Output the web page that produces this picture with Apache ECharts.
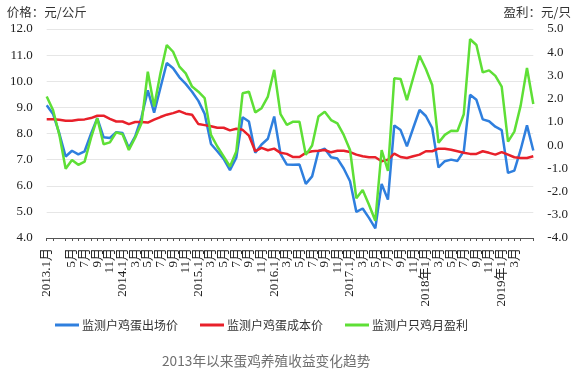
<!DOCTYPE html>
<html>
<head>
<meta charset="utf-8">
<script src="https://cdn.jsdelivr.net/npm/echarts@6/dist/echarts.min.js"></script>
<style>html,body{margin:0;padding:0;background:#fff}#c{width:580px;height:370px}</style>
</head>
<body>
<div id="c"></div>
<script>
const categories = [
  '2013.1月','2月','3月','4月','5月','6月','7月','8月','9月','10月','11月','12月',
  '2014.1月','2月','3月','4月','5月','6月','7月','8月','9月','10月','11月','12月',
  '2015.1月','2月','3月','4月','5月','6月','7月','8月','9月','10月','11月','12月',
  '2016.1月','2月','3月','4月','5月','6月','7月','8月','9月','10月','11月','12月',
  '2017.1月','2月','3月','4月','5月','6月','7月','8月','9月','10月','11月','12月',
  '2018年1月','2月','3月','4月','5月','6月','7月','8月','9月','10月','11月','12月',
  '2019年1月','2月','3月','4月','5月','6月'
];
const seriesNames = ['监测户鸡蛋出场价','监测户鸡蛋成本价','监测户只鸡月盈利'];
const eggPrice = [
  9.08,8.75,8.0,7.12,7.34,7.2,7.32,7.98,8.59,7.86,7.83,8.05,
  8.02,7.45,7.89,8.62,9.65,8.8,9.75,10.7,10.5,10.15,9.9,9.6,
  9.25,8.75,7.6,7.32,7.03,6.6,7.07,8.62,8.46,7.26,7.58,7.8,
  8.65,7.22,6.81,6.8,6.81,6.07,6.36,7.32,7.42,7.09,7.04,6.66,
  6.17,5.0,5.13,4.77,4.37,6.07,5.47,8.31,8.13,7.51,8.21,8.9,
  8.67,8.21,6.7,6.94,7.0,6.95,7.32,9.48,9.29,8.54,8.47,8.26,
  8.13,6.49,6.58,7.38,8.31,7.35
];
const eggCost = [
  8.55,8.55,8.53,8.49,8.49,8.53,8.54,8.59,8.68,8.68,8.56,8.46,
  8.46,8.36,8.44,8.44,8.42,8.53,8.63,8.72,8.78,8.86,8.76,8.72,
  8.36,8.32,8.28,8.22,8.22,8.12,8.18,8.14,7.92,7.32,7.45,7.36,
  7.42,7.26,7.22,7.1,7.1,7.26,7.32,7.34,7.37,7.28,7.34,7.34,
  7.29,7.19,7.13,7.09,7.09,6.94,7.0,7.23,7.1,7.06,7.13,7.19,
  7.32,7.32,7.42,7.42,7.38,7.32,7.26,7.22,7.22,7.32,7.26,7.19,
  7.29,7.19,7.09,7.06,7.06,7.13
];
const henProfit = [
  2.09,1.51,0.44,-1.02,-0.64,-0.85,-0.71,0.3,1.16,0.04,0.12,0.55,
  0.47,-0.21,0.32,0.94,3.16,1.66,3.09,4.31,4.02,3.38,3.09,2.52,
  2.3,2.02,0.44,-0.06,-0.49,-0.92,-0.28,2.23,2.3,1.41,1.59,2.09,
  3.24,1.33,0.87,1.01,1.01,-0.42,-0.02,1.23,1.44,1.08,0.94,0.44,
  -0.21,-2.29,-1.93,-2.57,-3.26,-0.21,-1.11,2.88,2.85,1.94,2.9,3.85,
  3.28,2.59,0.1,0.44,0.62,0.61,1.33,4.56,4.31,3.13,3.22,2.98,
  2.52,0.15,0.58,1.7,3.32,1.77
];
const leftAxisName = '价格：元/公斤';
const rightAxisName = '盈利：元/只';
const chartTitle = '2013年以来蛋鸡养殖收益变化趋势';

const serif = '"Liberation Serif", "Times New Roman", "Noto Sans CJK SC", serif';
const sans = '"Noto Sans CJK SC", "Noto Sans", sans-serif';

const chart = echarts.init(document.getElementById('c'), null, {renderer: 'canvas'});
chart.setOption({
  animation: false,
  backgroundColor: '#fff',
  title: {
    text: chartTitle,
    left: 157, top: 349,
    textStyle: {fontFamily: sans, fontSize: 13.7, fontWeight: 'normal', color: '#6f6f6f'}
  },
  legend: {
    left: 50, top: 314,
    itemWidth: 24, itemHeight: 3, itemGap: 22,
    icon: 'rect',
    textStyle: {fontFamily: sans, fontSize: 12, color: '#333', padding: [0, 0, 0, -2]},
    data: seriesNames
  },
  grid: {left: 46.7, right: 46.7, top: 29, bottom: 132, containLabel: false},
  xAxis: {
    type: 'category',
    data: categories,
    boundaryGap: false,
    axisLine: {onZero: false, lineStyle: {color: '#555', width: 1}},
    axisTick: {show: true, interval: 0, length: 3, lineStyle: {color: '#555'}},
    axisLabel: {interval: 1, rotate: 90, margin: 10, fontFamily: serif, fontSize: 13, color: '#222',
                showMinLabel: true, hideOverlap: false},
    splitLine: {show: false}
  },
  yAxis: [
    {
      type: 'value', min: 4, max: 12, interval: 1,
      name: leftAxisName, nameLocation: 'end', nameGap: 10,
      nameTextStyle: {fontFamily: sans, fontSize: 12.5, color: '#333'},
      axisLine: {show: false}, axisTick: {show: false},
      axisLabel: {formatter: v => v.toFixed(1), margin: 14, fontFamily: serif, fontSize: 13, color: '#222'},
      splitLine: {lineStyle: {color: '#e6e6e6', width: 1}}
    },
    {
      type: 'value', min: -4, max: 5, interval: 1,
      name: rightAxisName, nameLocation: 'end', nameGap: 10,
      nameTextStyle: {fontFamily: sans, fontSize: 12.5, color: '#333', padding: [0, 0, 0, 8]},
      axisLine: {show: false}, axisTick: {show: false},
      axisLabel: {formatter: v => v.toFixed(1), margin: 14, fontFamily: serif, fontSize: 13, color: '#222'},
      splitLine: {show: false}
    }
  ],
  series: [
    {name: seriesNames[0], type: 'line', yAxisIndex: 0, data: eggPrice, showSymbol: false,
     lineStyle: {width: 2.5, color: '#2f7fde'}, itemStyle: {color: '#2f7fde'}},
    {name: seriesNames[1], type: 'line', yAxisIndex: 0, data: eggCost, showSymbol: false,
     lineStyle: {width: 2.5, color: '#e8202a'}, itemStyle: {color: '#e8202a'}},
    {name: seriesNames[2], type: 'line', yAxisIndex: 1, data: henProfit, showSymbol: false,
     lineStyle: {width: 2.5, color: '#5edf36'}, itemStyle: {color: '#5edf36'}}
  ]
});
</script>
</body>
</html>
